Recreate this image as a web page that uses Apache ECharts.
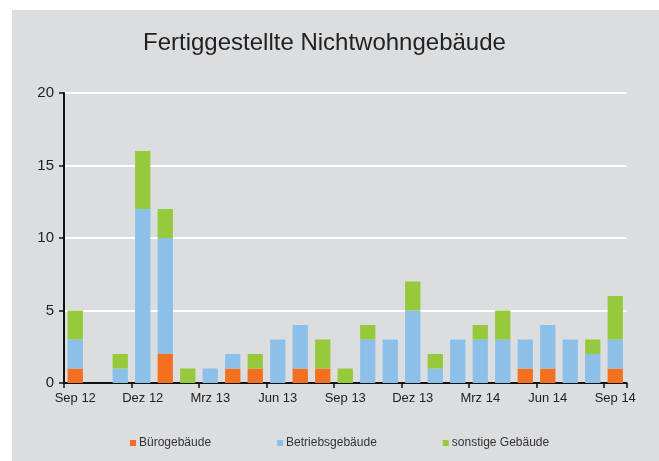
<!DOCTYPE html>
<html>
<head>
<meta charset="utf-8">
<script src="https://cdn.jsdelivr.net/npm/echarts@6/dist/echarts.min.js"></script>
<style>
html,body{margin:0;padding:0;background:#ffffff;}
#c{width:659px;height:461px;}
</style>
</head>
<body>
<div id="c"></div>
<script>
const months = ["Sep 12","Okt 12","Nov 12","Dez 12","Jan 13","Feb 13","Mrz 13","Apr 13","Mai 13","Jun 13","Jul 13","Aug 13","Sep 13","Okt 13","Nov 13","Dez 13","Jan 14","Feb 14","Mrz 14","Apr 14","Mai 14","Jun 14","Jul 14","Aug 14","Sep 14"];
const buero    = [1,0,0,0,2,0,0,1,1,0,1,1,0,0,0,0,0,0,0,0,1,1,0,0,1];
const betrieb  = [2,0,1,12,8,0,1,1,0,3,3,0,0,3,3,5,1,3,3,3,2,3,3,2,2];
const sonstige = [2,0,1,4,2,1,0,0,1,0,0,2,1,1,0,2,1,0,1,2,0,0,0,1,3];
const yTicks = [0,5,10,15,20];

const chart = echarts.init(document.getElementById('c'), null, {renderer:'canvas'});
const font = 'Liberation Sans, Arial, sans-serif';
const barBase = {type:'bar', stack:'a', barCategoryGap:'32%'};
chart.setOption({
  backgroundColor:'transparent',
  animation:false,
  graphic:[{type:'rect', z:-10, silent:true, shape:{x:12,y:10,width:660,height:460}, style:{fill:'#dcdddf'}}],
  title:{text:'Fertiggestellte Nichtwohngebäude', left:138, top:26,
    textStyle:{fontFamily:font, fontSize:24, fontWeight:'normal', color:'#222'}},
  grid:{left:64, right:32.5, top:93, bottom:78, containLabel:false},
  legend:{left:125, top:432, itemWidth:6, itemHeight:6, itemGap:66, icon:'rect',
    textStyle:{fontFamily:font, fontSize:12, color:'#333', padding:[0,0,0,-2]},
    data:['Bürogebäude','Betriebsgebäude','sonstige Gebäude']},
  xAxis:{type:'category', data:months, boundaryGap:true,
    axisLine:{lineStyle:{color:'#111', width:2}},
    axisTick:{show:true, interval:2, length:5, lineStyle:{color:'#111', width:1.5}},
    axisLabel:{interval:2, fontFamily:font, fontSize:13, color:'#222', margin:9}},
  yAxis:{type:'value', min:0, max:20, interval:5,
    axisLine:{show:true, lineStyle:{color:'#111', width:2}},
    axisTick:{show:true, length:5, lineStyle:{color:'#111', width:1.5}},
    axisLabel:{fontFamily:font, fontSize:15, color:'#222', margin:10,
      formatter:function(v){return yTicks.indexOf(v)>=0 ? String(v) : '';}},
    splitLine:{lineStyle:{color:'#ffffff', width:2}}},
  series:[
    Object.assign({name:'Bürogebäude', data:buero, itemStyle:{color:'#f37021'}}, barBase),
    Object.assign({name:'Betriebsgebäude', data:betrieb, itemStyle:{color:'#8dc0e8'}}, barBase),
    Object.assign({name:'sonstige Gebäude', data:sonstige, itemStyle:{color:'#97c93c'}}, barBase)
  ]
});
</script>
</body>
</html>
